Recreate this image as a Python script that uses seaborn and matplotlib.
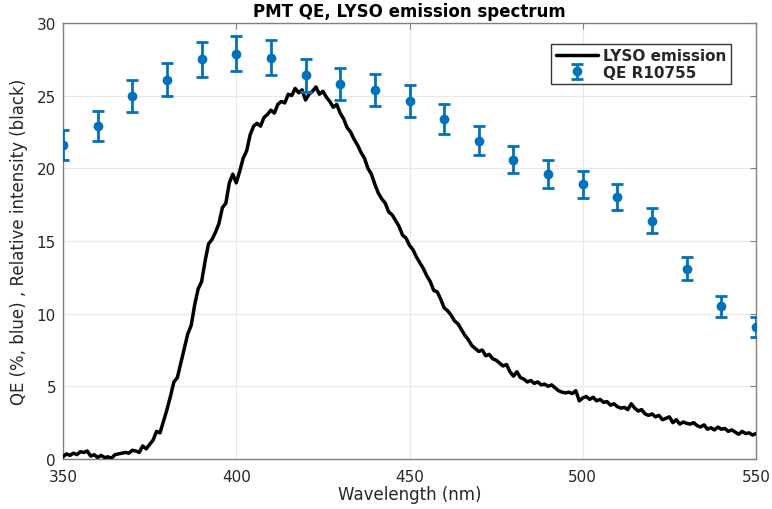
import numpy as np
import pandas as pd
import matplotlib
matplotlib.use("Agg")
import matplotlib.pyplot as plt
import seaborn as sns

# ---- Data ----
qe_wavelength = [350, 360, 370, 380, 390, 400, 410, 420, 430, 440, 450,
                 460, 470, 480, 490, 500, 510, 520, 530, 540, 550]
qe_values = [21.6, 22.9, 25.0, 26.1, 27.5, 27.9, 27.6, 26.4, 25.8, 25.4, 24.6,
             23.4, 21.9, 20.6, 19.6, 18.9, 18.0, 16.4, 13.1, 10.5, 9.1]
qe_errors = [1.05, 1.05, 1.1, 1.15, 1.2, 1.2, 1.2, 1.15, 1.1, 1.1, 1.1,
             1.05, 1.0, 0.95, 0.95, 0.95, 0.9, 0.85, 0.8, 0.75, 0.7]

lyso_wavelength = np.arange(350, 551, 1)
lyso_intensity = [
    0.15, 0.35, 0.25, 0.4, 0.3, 0.5, 0.45, 0.55, 0.2, 0.3,
    0.1, 0.25, 0.1, 0.15, 0.05, 0.3, 0.35, 0.4, 0.45, 0.4,
    0.6, 0.55, 0.45, 0.9, 0.7, 1.0, 1.3, 1.9, 1.8, 2.6,
    3.4, 4.3, 5.3, 5.6, 6.6, 7.6, 8.6, 9.2, 10.6, 11.7,
    12.2, 13.6, 14.8, 15.1, 15.6, 16.2, 17.3, 17.6, 19.0, 19.6,
    19.0, 19.8, 20.7, 21.2, 22.3, 22.9, 23.1, 22.9, 23.5, 23.7,
    24.0, 23.8, 24.4, 24.6, 24.5, 25.1, 25.0, 25.5, 25.2, 25.4,
    24.7, 25.1, 25.3, 25.6, 25.1, 25.3, 24.9, 24.6, 24.2, 24.4,
    23.8, 23.4, 22.8, 22.5, 22.0, 21.6, 21.1, 20.7, 20.0, 19.6,
    18.9, 18.3, 17.9, 17.6, 17.0, 16.8, 16.4, 16.0, 15.4, 15.2,
    14.7, 14.4, 13.9, 13.5, 13.1, 12.6, 12.2, 11.6, 11.5, 11.0,
    10.4, 10.2, 9.9, 9.5, 9.3, 8.9, 8.5, 8.2, 7.8, 7.6,
    7.4, 7.5, 7.1, 7.2, 6.9, 6.8, 6.6, 6.4, 6.5, 6.0,
    5.7, 6.0, 5.6, 5.5, 5.3, 5.4, 5.2, 5.3, 5.1, 5.15,
    5.0, 5.1, 4.9, 4.7, 4.6, 4.55, 4.6, 4.5, 4.7, 4.0,
    4.2, 4.3, 4.1, 4.25, 4.0, 4.1, 3.9, 3.95, 3.7, 3.8,
    3.6, 3.5, 3.55, 3.4, 3.8, 3.5, 3.3, 3.4, 3.1, 3.0,
    3.1, 2.9, 3.0, 2.7, 2.8, 2.9, 2.5, 2.7, 2.4, 2.55,
    2.45, 2.4, 2.5, 2.3, 2.2, 2.35, 2.05, 2.15, 2.0, 2.2,
    2.05, 2.1, 1.9, 2.0, 1.85, 1.7, 1.9, 1.75, 1.8, 1.65,
    1.75,
]

x_ticks = [350, 400, 450, 500, 550]
y_ticks = [0, 5, 10, 15, 20, 25, 30]

title = "PMT QE, LYSO emission spectrum"
x_label = "Wavelength (nm)"
y_label = "QE (%, blue) , Relative intensity (black)"

# ---- Plot ----
sns.set_theme(style="white")
plt.rcParams['font.family'] = ['DejaVu Sans']

fig = plt.figure(figsize=(7.72, 5.10), dpi=100)
ax = fig.add_axes([63 / 772, 1 - 460 / 510, (756 - 63) / 772, (460 - 24) / 510])

axis_color = "#262626"
grid_color = "#e8e8e8"
blue = "#0072BD"

lyso_df = pd.DataFrame({"wavelength": lyso_wavelength, "intensity": lyso_intensity})
sns.lineplot(data=lyso_df, x="wavelength", y="intensity", ax=ax, color="black",
             linewidth=2.5, label="LYSO emission", zorder=3)

ax.errorbar(qe_wavelength, qe_values, yerr=qe_errors, fmt="o", color=blue,
            markersize=6, elinewidth=2, capsize=4, capthick=2,
            label="QE R10755", zorder=4)

ax.set_xlim(350, 550)
ax.set_ylim(0, 30)
ax.set_xticks(x_ticks)
ax.set_yticks(y_ticks)
ax.grid(True, color=grid_color, linewidth=0.8)
ax.set_axisbelow(True)

for s in ax.spines.values():
    s.set_color("#808080")
    s.set_linewidth(1.0)

ax.tick_params(direction="in", top=True, right=True, length=4, width=0.8,
               colors="#808080", labelcolor=axis_color, labelsize=11, pad=5)
ax.tick_params(axis="x", pad=7)

ax.set_title(title, fontsize=12, fontweight="bold", color="black", pad=5)
ax.set_xlabel(x_label, fontsize=12, color=axis_color, labelpad=1)
ax.set_ylabel(y_label, fontsize=12, color=axis_color, labelpad=6)

leg = ax.legend(loc="upper right", bbox_to_anchor=(0.975, 0.97), frameon=True,
                fancybox=False, edgecolor="#333333", framealpha=1,
                prop={"weight": "bold", "size": 11}, handlelength=2.8,
                borderpad=0.3, labelspacing=0.1, handletextpad=0.3)
leg.get_frame().set_linewidth(1.0)

fig.savefig("out.png", dpi=100)
